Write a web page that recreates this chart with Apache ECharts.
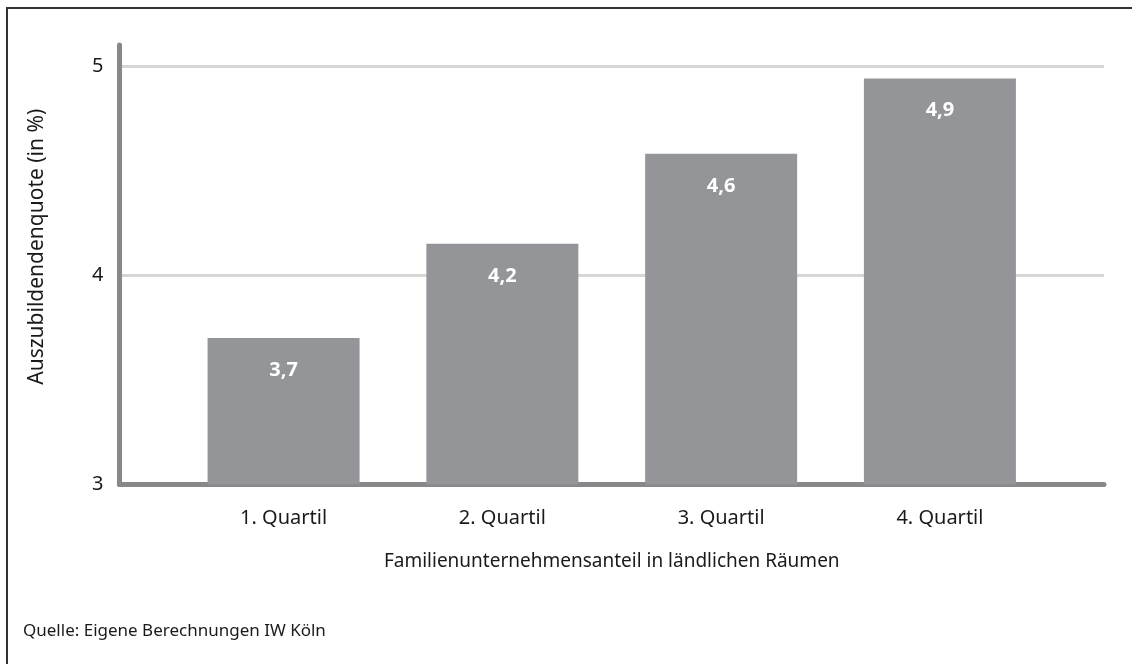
<!DOCTYPE html>
<html>
<head>
<meta charset="utf-8">
<title>Auszubildendenquote</title>
<script src="https://cdn.jsdelivr.net/npm/echarts@6/dist/echarts.min.js"></script>
<style>
  html, body { margin: 0; padding: 0; background: #fff; }
  .frame {
    position: absolute;
    left: 6px;
    top: 7px;
    width: 1200px;
    height: 700px;
    border-top: 2px solid #333;
    border-left: 2px solid #333;
  }
  #chart { position: absolute; left: 0; top: 0; width: 1132px; height: 664px; }
</style>
</head>
<body>
<div class="frame"></div>
<div id="chart"></div>
<script>
// Quartile des Familienunternehmensanteils
const categories = ['1. Quartil', '2. Quartil', '3. Quartil', '4. Quartil']
// Auszubildendenquote in %
const values = [3.70, 4.15, 4.58, 4.94]
const yTicks = [3, 4, 5]

const fontFamily = '"Noto Sans", "Open Sans", sans-serif'
const textColor = '#1a1a1a'
const axisColor = '#88888b'

const chart = echarts.init(document.getElementById('chart'))

const option = {
  animation: false,
  textStyle: { fontFamily: fontFamily },
  title: {
    text: 'Quelle: Eigene Berechnungen IW Köln',
    left: 18,
    top: 618,
    textStyle: {
      fontFamily: fontFamily,
      fontSize: 17,
      fontWeight: 'normal',
      color: textColor
    }
  },
  grid: {
    left: 119.5,
    right: 28,
    top: 45,
    bottom: 179.5,
    containLabel: false
  },
  xAxis: {
    type: 'value',
    min: 0.25,
    max: 4.75,
    name: 'Familienunternehmensanteil in ländlichen Räumen',
    nameLocation: 'middle',
    nameGap: 68,
    nameTextStyle: { fontSize: 19, color: textColor },
    axisLine: { show: true, lineStyle: { color: axisColor, width: 5 } },
    axisTick: { show: false },
    splitLine: { show: false },
    axisLabel: {
      customValues: categories.map((c, i) => i + 1),
      formatter: v => categories[Math.round(v) - 1],
      fontSize: 20,
      color: textColor,
      margin: 24
    }
  },
  yAxis: {
    type: 'value',
    min: 3,
    max: 5.1,
    interval: 1,
    name: 'Auszubildendenquote (in %)',
    nameLocation: 'middle',
    nameGap: 72,
    nameTextStyle: { fontSize: 21, color: textColor, padding: [0, 0, 0, 36] },
    axisLine: { show: true, lineStyle: { color: axisColor, width: 5 } },
    axisTick: { show: false },
    axisLabel: {
      customValues: yTicks,
      fontSize: 20,
      color: textColor,
      margin: 16
    },
    splitLine: {
      show: true,
      showMinLine: false,
      showMaxLine: false,
      lineStyle: { color: '#d6d6d6', width: 3 }
    }
  },
  series: [
    {
      type: 'bar',
      data: values.map((v, i) => [i + 1, v]),
      barWidth: 152,
      itemStyle: { color: '#939598' },
      label: {
        show: true,
        position: 'insideTop',
        distance: 22,
        color: '#ffffff',
        fontSize: 20,
        fontWeight: 'bold',
        formatter: p => p.value[1].toFixed(1).replace('.', ',')
      }
    }
  ]
}

chart.setOption(option)
</script>
</body>
</html>
